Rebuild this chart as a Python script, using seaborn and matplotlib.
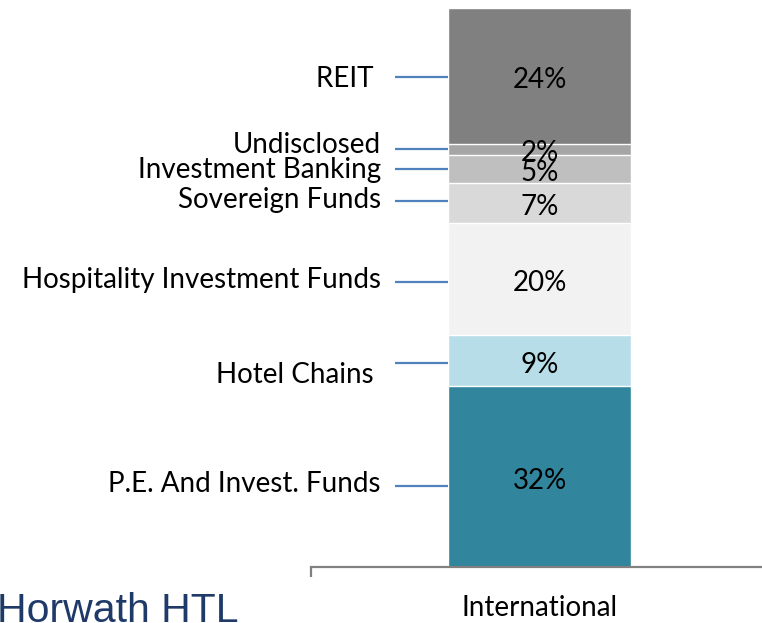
import numpy as np
import pandas as pd
import matplotlib
matplotlib.use("Agg")
import matplotlib.pyplot as plt
import seaborn as sns

# ---- data ----
categories = ["P.E. And Invest. Funds", "Hotel Chains", "Hospitality Investment Funds",
              "Sovereign Funds", "Investment Banking", "Undisclosed", "REIT"]
shares = [32, 9, 20, 7, 5, 2, 24]
region = ["International"]
colors = ["#31859C", "#B7DEE8", "#F2F2F2", "#D9D9D9", "#BFBFBF", "#A6A6A6", "#808080"]

# layout tweaks (pixel offsets from segment mid, positive = downward)
line_off_px = [9, 2.5, 2.5, -2, 0, 0, 1]
text_off_px = [5, 11.5, -2, -5, -1.5, -6.5, 1]
label_suffix = ["", " ", "", "", "", "", " "]

sns.set_theme(style="white")
plt.rcParams['font.family'] = ['Lato', 'DejaVu Sans']
FS = 20

W, H = 762, 623
fig = plt.figure(figsize=(W / 100, H / 100), dpi=100)
ax = fig.add_axes([311 / W, 1 - 567 / H, 457 / W, 559 / H])

cum = np.cumsum(shares)
df = pd.DataFrame({"region": region * len(shares), "cum": cum, "cat": categories})
for i in reversed(range(len(shares))):
    sns.barplot(data=df.iloc[[i]], x="region", y="cum", color=colors[i], width=0.4,
                saturation=1, errorbar=None, edgecolor="white", linewidth=1, ax=ax)

total = cum[-1]
ax.set_ylim(0, total)
ax.set_xlim(-0.5, 0.5)
px_per_unit = 559 / total
starts = cum - np.array(shares)
mids = starts + np.array(shares) / 2

bar_left = -0.2
line_x0 = -0.5 + (395 - 311) / 457
text_x = -0.5 + (381 - 311) / 457
for i, (cat, s, m) in enumerate(zip(categories, shares, mids)):
    ax.text(0, m - 1.5 / px_per_unit, f"{s}%", ha="center", va="center_baseline",
            fontsize=FS, color="black")
    ly = m - line_off_px[i] / px_per_unit
    ax.plot([line_x0, bar_left], [ly, ly], color="#4F81BD", lw=1.6, solid_capstyle="butt")
    ty = m - text_off_px[i] / px_per_unit
    ax.text(text_x, ty, cat + label_suffix[i], ha="right", va="center_baseline",
            fontsize=FS, color="black")

sns.despine(ax=ax, left=True, top=True, right=True)
ax.spines["bottom"].set_color("#808080")
ax.spines["bottom"].set_linewidth(1.6)
ax.set_yticks([])
ax.set_xlabel("")
ax.set_ylabel("")
ax.set_xticks([-0.5], minor=True)
ax.tick_params(axis="x", which="minor", length=7, width=1.6, color="#808080", direction="out", bottom=True)
ax.tick_params(axis="x", which="major", length=0, pad=20, labelsize=FS, labelcolor="black")

fig.text(-3 / W, 1 - 592 / H, "Horwath HTL", ha="left", va="top", fontsize=29.5,
         color="#1F3A68", family="Liberation Sans")

fig.savefig("out.png", dpi=100)
